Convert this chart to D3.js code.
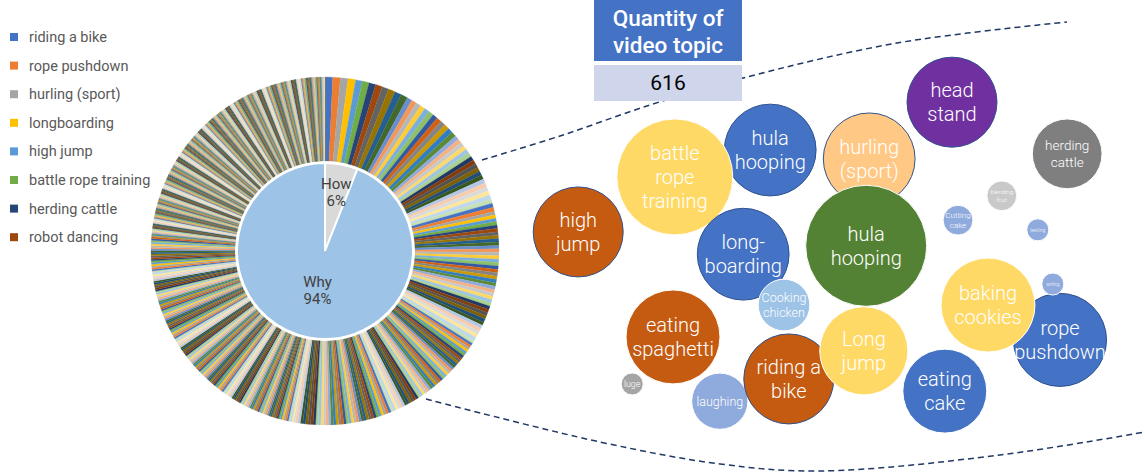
<!DOCTYPE html>
<html>
<head>
<meta charset="utf-8">
<script src="https://cdn.jsdelivr.net/npm/d3@7"></script>
<style>
  body { margin: 0; background: #fff; }
  svg { display: block; }
</style>
</head>
<body>
<svg id="chart" width="1145" height="473"></svg>
<script>

// ---- data ----

// inner pie: question type
const innerCats = ["How", "Why"];
const innerShares = [6, 94];

// outer ring: 616 video topics, sorted by count (read as runs of equal counts)
const ringLevels = [9, 8, 6, 5, 4, 3, 2, 1];
const ringCounts = [4, 8, 12, 20, 40, 80, 150, 302];
const topicTotal = "616";

// legend (first topics of the ring)
const legendTopics = ["riding a bike", "rope pushdown", "hurling (sport)", "longboarding",
                      "high jump", "battle rope training", "herding cattle", "robot dancing"];

// bubble chart (x, y, size)
const bubbleLabels = [
  ["hula", "hooping"], ["battle", "rope", "training"], ["high", "jump"], ["long-", "boarding"],
  ["Cooking", "chicken"], ["eating", "spaghetti"], ["luge"], ["laughing"], ["riding a", "bike"],
  ["Long", "jump"], ["eating", "cake"], ["rope", "pushdown"], ["baking", "cookies"], ["writing"],
  ["head", "stand"], ["hurling", "(sport)"], ["hula", "hooping"], ["herding", "cattle"],
  ["blending", "fruit"], ["Cutting", "cake"], ["texting"]
];
const bubbleX =    [41.7, 25.8,  9.7, 37.2, 44.0, 25.5, 18.7, 33.3, 44.8, 57.3, 70.8, 90.0, 78.0, 88.8, 72.0, 58.2, 57.7, 91.2, 80.3, 73.0, 86.3];
const bubbleY =    [73.8, 67.4, 54.3, 49.0, 36.9, 29.3, 18.1, 14.0, 19.3, 26.0, 16.4, 28.6, 36.9, 41.9, 85.2, 71.7, 51.0, 72.9, 62.9, 57.1, 54.8];
const bubbleSize = [ 104,  166,  100,  104,   33,  109,    6,   39,  100,   96,   87,  107,  109,    6,  100,  104,  181,   60,   11,   11,    6];

// ---- styles ----

const palette = [
  "#4472C4", "#ED7D31", "#A5A5A5", "#FFC000", "#5B9BD5", "#70AD47",
  "#264478", "#9E480E", "#636363", "#997300", "#255E91", "#43682B",
  "#698ED0", "#F1975A", "#B7B7B7", "#FFCD33", "#7CAFDD", "#8CC168",
  "#335AA1", "#D26012", "#848484", "#CC9A00", "#327DC2", "#5A8A39",
  "#8FAADC", "#F4B183", "#C9C9C9", "#FFD966", "#9DC3E6", "#A9D18E",
  "#203864", "#843C0C", "#525252", "#7F6000", "#1F4E79", "#385723",
  "#B4C7E7", "#F8CBAD", "#DBDBDB", "#FFE699", "#BDD7EE", "#C5E0B4"
];
const innerColors = ["#D9D9D9", "#9DC3E6"];
const bubbleFill = ["#4472C4", "#FFD966", "#C55A11", "#4472C4", "#9DC3E6", "#C55A11", "#A5A5A5",
                    "#8FAADC", "#C55A11", "#FFD966", "#4472C4", "#4472C4", "#FFD966", "#8FAADC",
                    "#7030A0", "#FFC985", "#548235", "#7F7F7F", "#C9C9C9", "#8FAADC", "#8FAADC"];
const darkEdge = [0, 2, 3, 8, 11, 14, 15];
const bubbleFont = [20, 20, 20, 20, 12.5, 20, 9, 12.5, 20, 20, 20, 20, 20, 4.5, 20, 20, 20, 13.5, 6, 8, 5];

const svg = d3.select("svg#chart");
const labelFont = "Roboto, 'Noto Sans', sans-serif";

// ---- donut ----
const cx = 325, cy = 251;
const gPie = svg.append("g").attr("transform", "translate(" + cx + "," + cy + ")");

let ringValues = [];
ringLevels.forEach(function(v, i) {
  for (let k = 0; k < ringCounts[i]; k++) ringValues.push(v);
});

const pie = d3.pie().sort(null).value(function(d) { return d; });
const ringArc = d3.arc().innerRadius(90).outerRadius(174);

gPie.append("g").selectAll("path")
  .data(pie(ringValues))
  .join("path")
    .attr("d", ringArc)
    .attr("fill", function(d, i) { return palette[i % palette.length]; })
    .attr("stroke", function(d, i) { return palette[i % palette.length]; })
    .attr("stroke-width", 0.2);

const innerArc = d3.arc().innerRadius(0).outerRadius(88);
const innerPie = pie(innerShares);

gPie.append("g").selectAll("path")
  .data(innerPie)
  .join("path")
    .attr("d", innerArc)
    .attr("fill", function(d, i) { return innerColors[i]; })
    .attr("stroke", "#fff")
    .attr("stroke-width", 2);

const labelRadius = [60, 40];
innerPie.forEach(function(d, i) {
  let a = (d.startAngle + d.endAngle) / 2;
  let lx = Math.sin(a) * labelRadius[i], ly = -Math.cos(a) * labelRadius[i];
  let t = gPie.append("text")
    .attr("text-anchor", "middle")
    .attr("font-family", labelFont)
    .attr("font-size", "15px")
    .attr("fill", "#404040");
  t.append("tspan").attr("x", lx).attr("y", ly - 3).text(innerCats[i]);
  t.append("tspan").attr("x", lx).attr("y", ly + 14).text(d3.format(".0%")(innerShares[i] / 100));
});

// ---- legend ----
const legend = svg.append("g");
legendTopics.forEach(function(name, i) {
  let y = 37 + i * 28.6;
  legend.append("rect")
    .attr("x", 10).attr("y", y - 4).attr("width", 8).attr("height", 8)
    .attr("fill", palette[i]);
  legend.append("text")
    .attr("x", 29).attr("y", y + 5)
    .attr("font-family", labelFont)
    .attr("font-size", "14.5px")
    .attr("fill", "#595959")
    .text(name);
});

// ---- dashed zoom outline ----
const outline = d3.line().curve(d3.curveCatmullRom);
const topEdge = [[482, 160], [560, 136], [653, 104], [743, 78], [897, 43], [1067, 22]];
const bottomEdge = [[426, 399], [600, 442], [720, 464], [820, 471], [1000, 455], [1145, 432]];
[topEdge, bottomEdge].forEach(function(pts) {
  svg.append("path")
    .attr("d", outline(pts))
    .attr("fill", "none")
    .attr("stroke", "#203864")
    .attr("stroke-width", 1.5)
    .attr("stroke-dasharray", "6,4");
});

// ---- bubbles ----
const x = d3.scaleLinear().domain([0, 100]).range([520, 1120]);
const y = d3.scaleLinear().domain([0, 100]).range([460, 40]);
const r = d3.scaleSqrt().domain([0, 100]).range([0, 45]);

const gB = svg.append("g");
bubbleLabels.forEach(function(lines, i) {
  let g = gB.append("g")
    .attr("transform", "translate(" + x(bubbleX[i]) + "," + y(bubbleY[i]) + ")");
  g.append("circle")
    .attr("r", r(bubbleSize[i]))
    .attr("fill", bubbleFill[i])
    .attr("stroke", darkEdge.includes(i) ? "#2F528F" : "#fff")
    .attr("stroke-width", 1);
  let fs = bubbleFont[i], lh = fs * 1.22;
  let t = g.append("text")
    .attr("text-anchor", "middle")
    .attr("font-family", labelFont)
    .attr("font-weight", 300)
    .attr("font-size", fs + "px")
    .attr("fill", "#fff");
  lines.forEach(function(s, k) {
    t.append("tspan")
      .attr("x", 0)
      .attr("y", (k - (lines.length - 1) / 2) * lh + fs * 0.35)
      .text(s);
  });
});

// ---- header box ----
const hb = svg.append("g");
hb.append("rect").attr("x", 594).attr("y", 0).attr("width", 148).attr("height", 61).attr("fill", "#4472C4");
hb.append("rect").attr("x", 594).attr("y", 65).attr("width", 148).attr("height", 36).attr("fill", "#CFD5EA");
let ht = hb.append("text")
  .attr("text-anchor", "middle")
  .attr("font-family", labelFont)
  .attr("font-weight", 500)
  .attr("font-size", "22.5px")
  .attr("fill", "#fff");
ht.append("tspan").attr("x", 668).attr("y", 26).text("Quantity of");
ht.append("tspan").attr("x", 668).attr("y", 53).text("video topic");
hb.append("text")
  .attr("x", 668).attr("y", 90)
  .attr("text-anchor", "middle")
  .attr("font-family", labelFont)
  .attr("font-size", "21px")
  .attr("fill", "#000")
  .text(topicTotal);

</script>
</body>
</html>
